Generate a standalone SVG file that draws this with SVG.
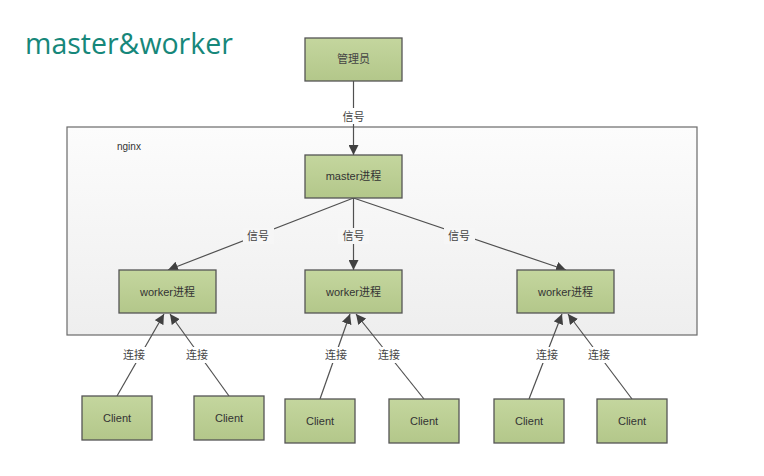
<svg xmlns="http://www.w3.org/2000/svg" width="764" height="476" viewBox="0 0 764 476">
<defs>
<linearGradient id="g" x1="0" y1="0" x2="0" y2="1"><stop offset="0" stop-color="#c4d69e"/><stop offset="1" stop-color="#b3c78a"/></linearGradient>
<linearGradient id="bg" x1="0" y1="0" x2="0" y2="1"><stop offset="0" stop-color="#fcfcfc"/><stop offset="1" stop-color="#eeeeee"/></linearGradient>
<marker id="ah" viewBox="0 0 10 10" refX="10" refY="5" markerWidth="10" markerHeight="10" markerUnits="userSpaceOnUse" orient="auto"><path d="M0,0 L10,5 L0,10 z" fill="#404040"/></marker>
</defs>
<style>
.box{fill:url(#g);stroke:#555;stroke-width:1.3}
.t{font-family:"Liberation Sans","Noto Sans CJK SC",sans-serif;font-size:11px;fill:#333;text-anchor:middle}
.lb{font-family:"Noto Sans CJK SC",sans-serif;font-size:11px;fill:#444;text-anchor:middle}
.c{fill:none;stroke:#505050;stroke-width:1.2}
.a{marker-end:url(#ah)}
</style>
<rect width="764" height="476" fill="#ffffff"/>
<text x="25" y="54" font-family="Open Sans, sans-serif" font-size="28.5" fill="#16877a">master&amp;worker</text>
<g id="nginx"><rect x="67" y="127" width="630" height="208" fill="url(#bg)" stroke="#6a6a6a" stroke-width="1.2"/><text x="117" y="150" font-family="Liberation Sans, sans-serif" font-size="10" fill="#333">nginx</text></g>
<g id="connectors">
<line class="c a" x1="353.5" y1="81" x2="353.5" y2="155"/>
<line class="c a" x1="353.5" y1="198" x2="168" y2="270"/>
<line class="c a" x1="353.5" y1="198" x2="353.5" y2="270"/>
<line class="c a" x1="353.5" y1="198" x2="566" y2="270"/>
<line class="c a" x1="117" y1="396" x2="164" y2="314"/>
<line class="c a" x1="229" y1="396" x2="170" y2="314"/>
<line class="c a" x1="320" y1="399" x2="350" y2="314"/>
<line class="c a" x1="424" y1="399" x2="356" y2="314"/>
<line class="c a" x1="529" y1="399" x2="562" y2="314"/>
<line class="c a" x1="632" y1="399" x2="568" y2="314"/>
<g>
<rect x="338" y="108" width="31" height="16" fill="#ffffff"/><text class="lb" x="353.5" y="121">信号</text>
<rect x="243" y="228" width="31" height="16" fill="#f6f6f6"/><text class="lb" x="258" y="240">信号</text>
<rect x="338" y="228" width="31" height="16" fill="#f6f6f6"/><text class="lb" x="353.5" y="240">信号</text>
<rect x="444" y="228" width="31" height="16" fill="#f6f6f6"/><text class="lb" x="459" y="240">信号</text>
<rect x="119" y="347" width="31" height="16" fill="#ffffff"/><text class="lb" x="134" y="359">连接</text>
<rect x="182" y="347" width="31" height="16" fill="#ffffff"/><text class="lb" x="197" y="359">连接</text>
<rect x="321" y="347" width="31" height="16" fill="#ffffff"/><text class="lb" x="336" y="359">连接</text>
<rect x="374" y="347" width="31" height="16" fill="#ffffff"/><text class="lb" x="389" y="359">连接</text>
<rect x="532" y="347" width="31" height="16" fill="#ffffff"/><text class="lb" x="547" y="359">连接</text>
<rect x="584" y="347" width="31" height="16" fill="#ffffff"/><text class="lb" x="599" y="359">连接</text>
</g>
</g>
<g id="admin"><rect class="box" x="305" y="38" width="97" height="43"/><text class="lb" x="353.5" y="63">管理员</text></g>
<g id="master"><rect class="box" x="305" y="155" width="97" height="43"/><text class="t" x="353.5" y="180">master进程</text></g>
<g id="worker1"><rect class="box" x="119" y="270" width="97" height="43"/><text class="t" x="167.5" y="296">worker进程</text></g>
<g id="worker2"><rect class="box" x="305" y="270" width="97" height="43"/><text class="t" x="353.5" y="296">worker进程</text></g>
<g id="worker3"><rect class="box" x="517" y="270" width="97" height="43"/><text class="t" x="565.5" y="296">worker进程</text></g>
<g id="client1"><rect class="box" x="82" y="396" width="70" height="44"/><text class="t" x="117" y="422">Client</text></g>
<g id="client2"><rect class="box" x="194" y="396" width="70" height="44"/><text class="t" x="229" y="422">Client</text></g>
<g id="client3"><rect class="box" x="285" y="399" width="70" height="44"/><text class="t" x="320" y="425">Client</text></g>
<g id="client4"><rect class="box" x="389" y="399" width="70" height="44"/><text class="t" x="424" y="425">Client</text></g>
<g id="client5"><rect class="box" x="494" y="399" width="70" height="44"/><text class="t" x="529" y="425">Client</text></g>
<g id="client6"><rect class="box" x="597" y="399" width="70" height="44"/><text class="t" x="632" y="425">Client</text></g>
</svg>
